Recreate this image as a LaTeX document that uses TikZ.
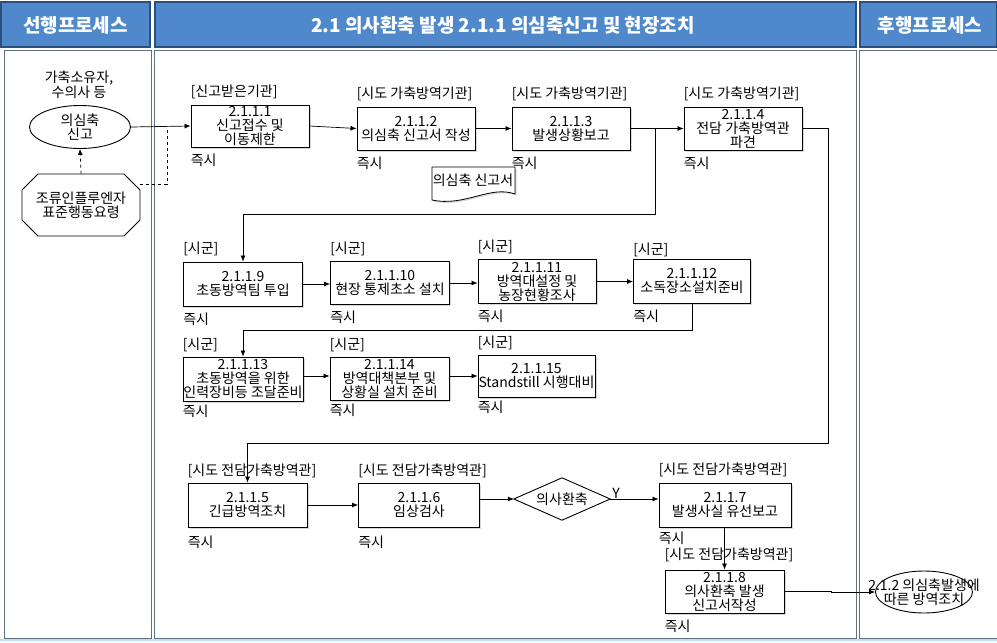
\documentclass[tikz,border=0pt]{standalone}
\usepackage{fontspec}
\setmainfont{Noto Sans CJK KR}
\usetikzlibrary{shapes.geometric,shapes.misc,arrows.meta,shadows,calc}
\definecolor{hdr}{HTML}{4F89CC}
\definecolor{hdrline}{HTML}{2B4F7A}
\definecolor{framec}{HTML}{5F6F84}
\definecolor{bottomc}{HTML}{BFE0F0}
\newcommand\myfs{\fontsize{14}{14}\selectfont}
\newcommand\hdfs{\fontsize{19}{21}\selectfont\bfseries}
\begin{document}
\begin{tikzpicture}[x=1pt,y=-1pt,
  proc/.style={draw, line width=0.9pt, fill=white, align=center, inner sep=0pt, font=\myfs,
    drop shadow={shadow xshift=1.5pt, shadow yshift=-1.5pt, opacity=0.3}},
  lbl/.style={anchor=south west, inner sep=0pt, font=\myfs},
  tm/.style={anchor=north west, inner sep=0pt, font=\myfs},
  arr/.style={-{Latex[length=6pt,width=5pt]}, line width=0.7pt},
  hcell/.style={draw=hdrline, line width=1.5pt, fill=hdr},
  htext/.style={text=white, font=\hdfs, inner sep=0pt},
  col/.style={draw=framec, line width=0.8pt, fill=white}
]
\useasboundingbox (0,0) rectangle (997,643);
% header
\fill[white] (0,0) rectangle (997,643);
\draw[hcell] (1,2) rectangle (150,47);
\draw[hcell] (155,2) rectangle (856,47);
\draw[hcell] (860,2) rectangle (997,47);
\node[htext] (h1) at (75.5,25) {선행프로세스};
\node[htext] (h2) at (503,25) {2.1 의사환축 발생 2.1.1 의심축신고 및 현장조치};
\node[htext] (h3) at (930,25) {후행프로세스};
% columns
\draw[col] (4,50) rectangle (151,638);
\draw[col] (154,50) rectangle (856,638);
\draw[col] (859,50) rectangle (997,638);
\draw[bottomc, line width=2pt] (0,640) -- (997,640);

% left column
\node[font=\myfs, align=center, inner sep=0pt] (who) at (79,85) {가축소유자,\\수의사 등};
\node[draw, line width=0.9pt, ellipse, fill=white, minimum width=101pt, minimum height=43pt, inner sep=0pt, align=center, font=\myfs] (e1) at (80,127) {의심축\\신고};
\node[draw, line width=0.9pt, chamfered rectangle, chamfered rectangle xsep=8pt, chamfered rectangle ysep=8pt, minimum width=118pt, minimum height=62pt, inner sep=0pt, align=center, font=\myfs] (oct) at (81,205) {조류인플루엔자\\표준행동요령};
\draw[arr, dashed] (oct.north) -- (e1.south);
\coordinate (dj) at (167,127);
\draw[dashed, line width=0.7pt] ([yshift=21pt]oct.east) -| (dj);

% row 1
\node[proc, minimum width=118pt, minimum height=42pt] (n1) at (250,126) {2.1.1.1\\신고접수 및\\이동제한};
\node[proc, minimum width=118pt, minimum height=43pt] (n2) at (416,128.5) {2.1.1.2\\의심축 신고서 작성};
\node[proc, minimum width=118pt, minimum height=43pt] (n3) at (571,128.5) {2.1.1.3\\발생상황보고};
\node[proc, minimum width=118pt, minimum height=43pt] (n4) at (743,128.5) {2.1.1.4\\전담 가축방역관\\파견};
\node[lbl] (l1) at ([yshift=5pt]n1.north west) {[신고받은기관]};
\node[lbl] (l2) at ([yshift=5pt]n2.north west) {[시도 가축방역기관]};
\node[lbl] (l3) at ([yshift=5pt]n3.north west) {[시도 가축방역기관]};
\node[lbl] (l4) at ([yshift=5pt]n4.north west) {[시도 가축방역기관]};
\node[tm] (t1) at ([yshift=-6pt]n1.south west) {즉시};
\node[tm] (t2) at ([yshift=-6pt]n2.south west) {즉시};
\node[tm] (t3) at ([yshift=-6pt]n3.south west) {즉시};
\node[tm] (t4) at ([yshift=-6pt]n4.south west) {즉시};
\draw[arr] (e1.east) -- (n1.west);
\draw[arr] (n1.east) -- (n2.west);
\draw[arr] (n2.east) -- (n3.west);
\draw[arr] (n3.east) -- (n4.west);
% document
\draw[line width=0.8pt, fill=white, drop shadow={shadow xshift=1.5pt, shadow yshift=-1.5pt, opacity=0.3}]
  (432,167) -- (515,167) -- (515,194) .. controls (490,185) and (465,207) .. (432,200) -- cycle;
\node[font=\myfs, inner sep=0pt] (doc) at (473,180) {의심축 신고서};

% row 2
\node[proc, minimum width=119pt, minimum height=44pt] (n9) at (243,284) {2.1.1.9\\초동방역팀 투입};
\node[proc, minimum width=119pt, minimum height=43pt] (n10) at (390,283) {2.1.1.10\\현장 통제초소 설치};
\node[proc, minimum width=118pt, minimum height=44pt] (n11) at (537,281.5) {2.1.1.11\\방역대설정 및\\농장현황조사};
\node[proc, minimum width=117pt, minimum height=44pt] (n12) at (692,281) {2.1.1.12\\소독장소설치준비};
\node[lbl] (l9) at ([yshift=5pt]n9.north west) {[시군]};
\node[lbl] (l10) at ([yshift=5pt]n10.north west) {[시군]};
\node[lbl] (l11) at ([yshift=5pt]n11.north west) {[시군]};
\node[lbl] (l12) at ([yshift=1pt]n12.north west) {[시군]};
\node[tm] (t9) at ([yshift=-6pt]n9.south west) {즉시};
\node[tm] (t10) at ([yshift=-6pt]n10.south west) {즉시};
\node[tm] (t11) at ([yshift=-6pt]n11.south west) {즉시};
\node[tm] (t12) at ([yshift=-6pt]n12.south west) {즉시};
\coordinate (c1) at (655,214);
\draw[arr] (n3.east) -| (c1) -| (n9.north);
\draw[arr] (n9.east) -- (n9.east -| n10.west);
\draw[arr] (n10.east) -- (n10.east -| n11.west);
\draw[arr] (n11.east) -- (n11.east -| n12.west);

% row 3
\node[proc, minimum width=120pt, minimum height=44pt] (n13) at (243,379) {2.1.1.13\\초동방역을 위한\\인력장비등 조달준비};
\node[proc, minimum width=119pt, minimum height=43pt] (n14) at (389.5,378.5) {2.1.1.14\\방역대책본부 및\\상황실 설치 준비};
\node[proc, minimum width=117pt, minimum height=42pt] (n15) at (536.5,376) {2.1.1.15\\Standstill 시행대비};
\node[lbl] (l13) at ([yshift=4pt]n13.north west) {[시군]};
\node[lbl] (l14) at ([yshift=4pt]n14.north west) {[시군]};
\node[lbl] (l15) at ([yshift=4pt]n15.north west) {[시군]};
\node[tm] (t13) at ([yshift=-3pt]n13.south west) {즉시};
\node[tm] (t14) at ([yshift=-3pt]n14.south west) {즉시};
\node[tm] (t15) at ([yshift=-3pt]n15.south west) {즉시};
\coordinate (c3) at (692,330);
\draw[arr] (n12.south) -- (c3) -| (n13.north);
\draw[arr] (n13.east |- n15.east) -- (n14.west |- n15.east);
\draw[arr] (n14.east |- n15.east) -- (n15.west);

% row 4
\node[proc, minimum width=119pt, minimum height=44pt] (n5) at (247.5,505) {2.1.1.5\\긴급방역조치};
\node[proc, minimum width=121pt, minimum height=44pt] (n6) at (419,505) {2.1.1.6\\임상검사};
\node[minimum width=96pt, minimum height=42pt, inner sep=0pt] (d) at (562,499) {};
\draw[line width=0.9pt, fill=white] (d.west) -- (d.north) -- (d.east) -- (d.south) -- cycle;
\node[font=\myfs, inner sep=0pt] (dt) at (d.center) {의사환축};
\node[proc, minimum width=132pt, minimum height=44pt] (n7) at (725,505) {2.1.1.7\\발생사실 유선보고};
\node[proc, minimum width=119pt, minimum height=43pt] (n8) at (724.5,591.5) {2.1.1.8\\의사환축 발생\\신고서작성};
\node[lbl] (l5) at ([yshift=4pt]n5.north west) {[시도 전담가축방역관]};
\node[lbl] (l6) at ([yshift=4pt]n6.north west) {[시도 전담가축방역관]};
\node[lbl] (l7) at ([yshift=5pt]n7.north west) {[시도 전담가축방역관]};
\node[lbl] (l8) at ([yshift=7pt]n8.north west) {[시도 전담가축방역관]};
\node[tm] (t5) at ([yshift=-8pt]n5.south west) {즉시};
\node[tm] (t6) at ([yshift=-8pt]n6.south west) {즉시};
\node[tm] (t7) at ([yshift=-4pt]n7.south west) {즉시};
\node[tm] (t8) at ([yshift=-6pt]n8.south west) {즉시};
\node[font=\myfs, inner sep=0pt] (ylab) at (616,493) {Y};
\node[draw, line width=0.9pt, ellipse, fill=white, minimum width=97pt, minimum height=42pt, inner sep=0pt, align=center, font=\myfs] (e2) at (924,592) {\makebox[0pt]{2.1.2 의심축발생에}\\\makebox[0pt]{따른 방역조치}};
\coordinate (c2) at (828,443);
\draw[arr] (n4.east) -| (c2) -| (n5.north);
\draw[arr] (n5.east) -- (n6.west);
\draw[arr] (n6.east |- d.west) -- (d.west);
\draw[arr] (d.east) -- (d.east -| n7.west);
\draw[arr] (n7.south -| n8.north) -- (n8.north);
\draw[arr] (n8.east) -- ++(47,0) |- (e2.west);
\end{tikzpicture}
\end{document}
